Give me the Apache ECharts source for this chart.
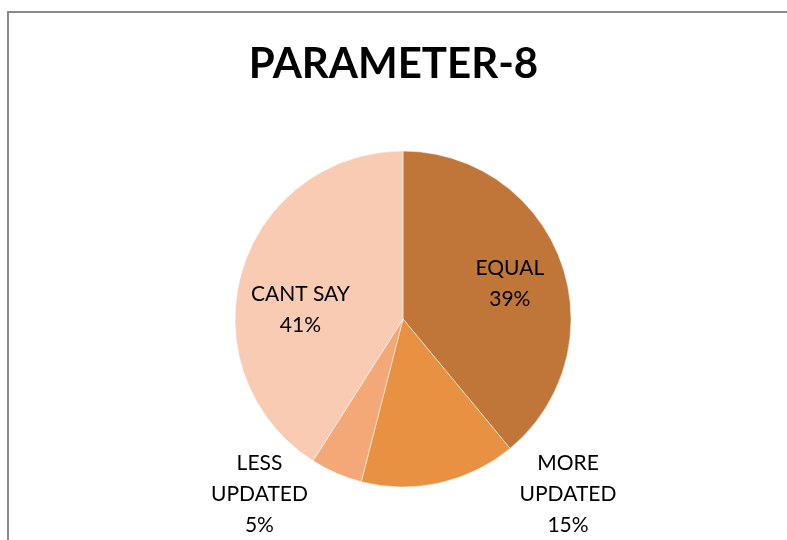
<!DOCTYPE html>
<html>
<head>
<meta charset="utf-8">
<script src="https://cdn.jsdelivr.net/npm/echarts@6/dist/echarts.min.js"></script>
<style>
  html, body { margin: 0; padding: 0; background: #fff; }
  #chart { width: 787px; height: 540px; }
</style>
</head>
<body>
<div id="chart"></div>
<script>
let categories = ['EQUAL', 'MORE UPDATED', 'LESS UPDATED', 'CANT SAY'];
let labelNames = ['EQUAL', 'MORE\nUPDATED', 'LESS\nUPDATED', 'CANT SAY'];
let values = [39, 15, 5, 41];
let colors = ['#C07639', '#E89142', '#F4A878', '#F8CBB2'];
// nudge each label from its default inside spot to where the original puts it
let labelOffsets = [[25, -6], [146, 90], [-109, 95], [-19, 15]];

let option = {
    animation: false,
    title: {
        left: 'center',
        top: 38,
        text: 'PARAMETER-8',
        textStyle: {
            fontFamily: 'Lato',
            fontWeight: 'bold',
            fontSize: 42,
            color: '#000'
        }
    },
    graphic: [{
        type: 'rect',
        shape: { x: 8, y: 12, width: 800, height: 600 },
        style: { fill: 'none', stroke: '#898989', lineWidth: 2 },
        silent: true
    }],
    series: [
        {
            name: 'PARAMETER-8',
            type: 'pie',
            center: [403, 319],
            radius: [0, 168],
            startAngle: 90,
            clockwise: true,
            label: {
                show: true,
                position: 'inside',
                fontFamily: 'Lato',
                fontSize: 21,
                lineHeight: 31,
                color: '#000',
                align: 'center',
                formatter: p => labelNames[p.dataIndex] + '\n' + p.value + '%'
            },
            labelLine: { show: false },
            itemStyle: { borderColor: '#fff', borderWidth: 0.5 },
            emphasis: { disabled: true },
            data: categories.map((c, i) => ({
                name: c,
                value: values[i],
                itemStyle: { color: colors[i] },
                label: { offset: labelOffsets[i] }
            }))
        }
    ]
};

let myChart = echarts.init(document.getElementById('chart'), null, { renderer: 'canvas' });
myChart.setOption(option);
</script>
</body>
</html>
